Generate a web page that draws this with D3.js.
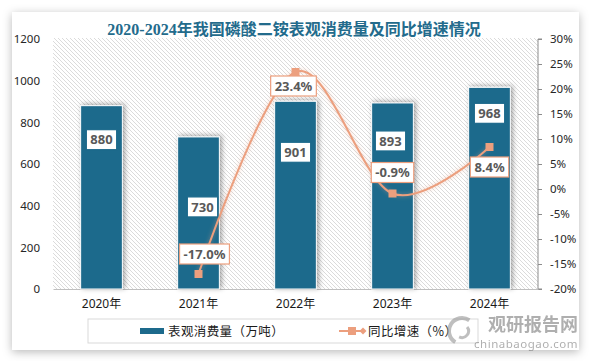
<!DOCTYPE html>
<html>
<head>
<meta charset="utf-8">
<script src="https://cdn.jsdelivr.net/npm/d3@7/dist/d3.min.js"></script>
<style>
  body { margin: 0; background: #fff; }
  svg { display: block; }
</style>
</head>
<body>
<div id="chart"></div>
<script>
const years = ['2020年', '2021年', '2022年', '2023年', '2024年'];
const consumption = [880, 730, 901, 893, 968];
const growth = [null, -17.0, 23.4, -0.9, 8.4];
const leftTicks = [0, 200, 400, 600, 800, 1000, 1200];
const rightTicks = [-20, -15, -10, -5, 0, 5, 10, 15, 20, 25, 30];

// label placement (pixels, relative to the point they belong to)
const barLabelDy = [34, 70, 51, 38, 26];
const barLabelDx = [0, 4, 0, -2, 0];
const lineLabelDy = [0, -20, 14, -21, 20];
const lineLabelDx = [0, 6, -2, 0, 0];

const width = 589;
const height = 361;
const blue = '#1d6a8c';
const orange = '#ec9f7e';

const svg = d3.select('#chart')
  .append('svg')
  .attr('width', width)
  .attr('height', height);

const defs = svg.append('defs');

const cardShadow = defs.append('filter').attr('id', 'cardShadow')
  .attr('x', '-10%').attr('y', '-10%').attr('width', '120%').attr('height', '120%');
cardShadow.append('feDropShadow')
  .attr('dx', 0).attr('dy', 2).attr('stdDeviation', 5)
  .attr('flood-color', '#000').attr('flood-opacity', 0.28);

const barShadow = defs.append('filter').attr('id', 'barShadow')
  .attr('x', '-30%').attr('y', '-10%').attr('width', '160%').attr('height', '120%');
barShadow.append('feDropShadow')
  .attr('dx', 2).attr('dy', -1).attr('stdDeviation', 2.5)
  .attr('flood-color', '#000').attr('flood-opacity', 0.35);

const lineGlow = defs.append('filter').attr('id', 'lineGlow')
  .attr('x', '-10%').attr('y', '-10%').attr('width', '120%').attr('height', '120%');
lineGlow.append('feDropShadow')
  .attr('dx', 0).attr('dy', 0).attr('stdDeviation', 2)
  .attr('flood-color', orange).attr('flood-opacity', 0.5);

const hatch = defs.append('pattern').attr('id', 'hatch')
  .attr('patternUnits', 'userSpaceOnUse')
  .attr('width', 4).attr('height', 4);
hatch.append('path')
  .attr('d', 'M-1,-1 L5,5 M-1,3 L1,5 M3,-1 L5,1')
  .attr('stroke', '#d2d2d2')
  .attr('stroke-width', 0.8);

// card
svg.append('rect')
  .attr('x', 12).attr('y', 12)
  .attr('width', 567).attr('height', 338)
  .attr('fill', '#fff')
  .attr('filter', 'url(#cardShadow)');

// title
svg.append('text')
  .attr('x', 294).attr('y', 35)
  .attr('text-anchor', 'middle')
  .attr('font-family', '"Liberation Serif", "Noto Sans CJK SC", serif')
  .attr('font-weight', 'bold')
  .attr('font-size', 16)
  .attr('fill', '#236b8c')
  .text('2020-2024年我国磷酸二铵表观消费量及同比增速情况');

const plotLeft = 53;
const plotRight = 538;
const plotTop = 39;
const plotBottom = 289;

const x = d3.scaleBand().domain(years).range([plotLeft, plotRight]);
const yLeft = d3.scaleLinear().domain([0, 1200]).range([plotBottom, plotTop]);
const yRight = d3.scaleLinear().domain([-20, 30]).range([plotBottom, plotTop]);

// plot background
svg.append('rect')
  .attr('x', plotLeft).attr('y', plotTop - 1)
  .attr('width', plotRight - plotLeft).attr('height', plotBottom - plotTop + 1)
  .attr('fill', 'url(#hatch)');

const axisFont = '"Noto Sans", "Noto Sans CJK SC", sans-serif';

// left axis (labels only)
const leftAxis = svg.append('g')
  .attr('transform', `translate(${plotLeft}, 0)`)
  .call(d3.axisLeft(yLeft).tickValues(leftTicks).tickSize(0).tickPadding(13)
    .tickFormat(d3.format('d')));
leftAxis.select('.domain').remove();
leftAxis.selectAll('text')
  .attr('font-family', axisFont).attr('font-size', 11.5).attr('fill', '#262626');

// right axis
const rightAxis = svg.append('g')
  .attr('transform', `translate(${plotRight}, 0)`)
  .call(d3.axisRight(yRight).tickValues(rightTicks).tickSize(4).tickPadding(8)
    .tickFormat((d) => d + '%'));
rightAxis.select('.domain').attr('stroke', '#8c8c8c').attr('d', `M4,${plotTop}H0V${plotBottom}H4`);
rightAxis.selectAll('.tick line').attr('stroke', '#8c8c8c');
rightAxis.selectAll('text')
  .attr('font-family', axisFont).attr('font-size', 11.5).attr('fill', '#262626');

// bottom axis
const bottomAxis = svg.append('g')
  .attr('transform', `translate(0, ${plotBottom})`)
  .call(d3.axisBottom(x).tickSize(0).tickPadding(10));
bottomAxis.select('.domain').attr('stroke', '#bfbfbf');
bottomAxis.selectAll('text')
  .attr('font-family', axisFont).attr('font-size', 12).attr('fill', '#1a1a1a');

// bars
const barWidth = x.bandwidth() * 0.43;
const cx = (d) => x(d) + x.bandwidth() / 2;

svg.append('g').selectAll('rect')
  .data(consumption)
  .enter()
  .append('rect')
  .attr('x', (d, i) => cx(years[i]) - barWidth / 2)
  .attr('y', (d) => yLeft(d))
  .attr('width', barWidth)
  .attr('height', (d) => plotBottom - yLeft(d))
  .attr('fill', blue)
  .attr('stroke', '#fff')
  .attr('stroke-width', 1)
  .attr('filter', 'url(#barShadow)');

// growth line
const points = growth
  .map((g, i) => ({ year: years[i], value: g, i }))
  .filter((d) => d.value !== null);

const line = d3.line()
  .x((d) => cx(d.year))
  .y((d) => yRight(d.value))
  .curve(d3.curveCatmullRom.alpha(0));

svg.append('path')
  .datum(points)
  .attr('d', line)
  .attr('fill', 'none')
  .attr('stroke', orange)
  .attr('stroke-width', 2)
  .attr('filter', 'url(#lineGlow)');

svg.append('g').selectAll('rect')
  .data(points)
  .enter()
  .append('rect')
  .attr('x', (d) => cx(d.year) - 4)
  .attr('y', (d) => yRight(d.value) - 4)
  .attr('width', 8)
  .attr('height', 8)
  .attr('fill', orange);

// data labels
const labelFont = '"Noto Sans", sans-serif';

function addLabel(px, py, txt, border) {
  const g = svg.append('g').attr('transform', `translate(${px}, ${py})`);
  const t = g.append('text')
    .attr('text-anchor', 'middle')
    .attr('dy', '0.36em')
    .attr('font-family', labelFont)
    .attr('font-weight', 'bold')
    .attr('font-size', 13)
    .attr('fill', '#595959')
    .text(txt);
  const w = t.node().getComputedTextLength() + 8;
  g.insert('rect', 'text')
    .attr('x', -w / 2).attr('y', -10)
    .attr('width', w).attr('height', 20)
    .attr('fill', '#fff')
    .attr('stroke', border)
    .attr('stroke-width', 1.2);
}

consumption.forEach((v, i) => {
  addLabel(cx(years[i]) + barLabelDx[i], yLeft(v) + barLabelDy[i], v, blue);
});

points.forEach((d) => {
  addLabel(cx(d.year) + lineLabelDx[d.i], yRight(d.value) + lineLabelDy[d.i],
    d.value.toFixed(1) + '%', orange);
});

// legend
svg.append('rect')
  .attr('x', 88).attr('y', 319)
  .attr('width', 390).attr('height', 24)
  .attr('fill', '#fff')
  .attr('stroke', '#d9d9d9');

const legendFont = '"Noto Sans CJK SC", sans-serif';

svg.append('rect')
  .attr('x', 140).attr('y', 328)
  .attr('width', 24).attr('height', 6)
  .attr('fill', blue);
svg.append('text')
  .attr('x', 168).attr('y', 335.5)
  .attr('font-family', legendFont).attr('font-size', 12.5)
  .attr('letter-spacing', 0.4)
  .attr('fill', '#1a1a1a')
  .text('表观消费量（万吨）');

svg.append('line')
  .attr('x1', 339).attr('x2', 365).attr('y1', 331).attr('y2', 331)
  .attr('stroke', orange).attr('stroke-width', 2);
svg.append('rect')
  .attr('x', 348).attr('y', 327).attr('width', 8).attr('height', 8)
  .attr('fill', orange);
svg.append('path')
  .attr('d', 'M363,327.5 L366.5,331 L363,334.5 L359.5,331 Z')
  .attr('fill', orange);
svg.append('text')
  .attr('x', 368).attr('y', 335.5)
  .attr('font-family', legendFont).attr('font-size', 12.5)
  .attr('letter-spacing', 0.4)
  .attr('fill', '#1a1a1a')
  .text('同比增速（%）');

// watermark
const mark = svg.append('g').attr('opacity', 0.55);
mark.append('path')
  .attr('d', d3.arc()({ innerRadius: 11, outerRadius: 15, startAngle: -2.6, endAngle: 0.6 }))
  .attr('transform', 'translate(462, 331)')
  .attr('fill', '#8c8c8c');
mark.append('path')
  .attr('d', d3.arc()({ innerRadius: 5, outerRadius: 8, startAngle: 0.9, endAngle: 3.6 }))
  .attr('transform', 'translate(462, 331)')
  .attr('fill', '#8c8c8c');
mark.append('text')
  .attr('x', 578).attr('y', 331)
  .attr('text-anchor', 'end')
  .attr('font-family', legendFont).attr('font-weight', 'bold')
  .attr('font-size', 18)
  .attr('fill', '#6e6e6e')
  .text('观研报告网');
mark.append('text')
  .attr('x', 578).attr('y', 348)
  .attr('text-anchor', 'end')
  .attr('font-family', '"Noto Sans", sans-serif')
  .attr('font-size', 11.5)
  .attr('letter-spacing', 0.5)
  .attr('fill', '#6e6e6e')
  .text('chinabaogao.com');
</script>
</body>
</html>
